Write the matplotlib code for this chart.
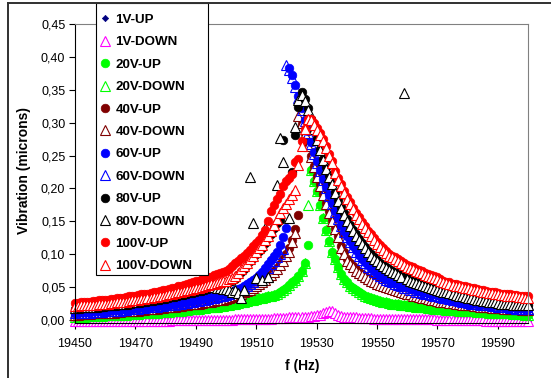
import numpy as np
import matplotlib
matplotlib.use("Agg")
import matplotlib.pyplot as plt
from matplotlib.lines import Line2D
from matplotlib.patches import Rectangle
from matplotlib.font_manager import FontProperties

plt.rcParams['font.family'] = ['Liberation Sans', 'DejaVu Sans']

# Frequency sweep (Hz), 1 Hz steps
F_START, F_STOP, F_STEP = 19450, 19600, 1
FREQ = np.arange(F_START, F_STOP + F_STEP, F_STEP).astype(float)

N = None
# rows: 19450-59, 19460-69, ..., 19590-99, then 19600
v1_up = [
    -0.003, -0.003, -0.003, -0.003, -0.003, -0.003, -0.003, -0.003, -0.003, -0.003,
    -0.003, -0.003, -0.002, -0.002, -0.002, -0.002, -0.002, -0.002, -0.002, -0.002,
    -0.002, -0.002, -0.002, -0.002, -0.002, -0.002, -0.002, -0.002, -0.002, -0.002,
    -0.002, -0.002, -0.001, -0.001, -0.001, -0.001, -0.001, -0.001, -0.001, -0.001,
    -0.001, -0.001, -0.001, -0.001, -0.001, -0.001, 0.000, 0.000, 0.000, 0.000,
    0.000, 0.000, 0.000, 0.000, 0.001, 0.001, 0.001, 0.001, 0.001, 0.001,
    0.001, 0.001, 0.002, 0.002, 0.002, 0.002, 0.002, 0.002, 0.003, 0.003,
    0.003, 0.003, 0.003, 0.004, 0.004, 0.004, 0.004, 0.005, 0.005, 0.006,
    0.006, 0.007, 0.009, 0.011, 0.012, 0.011, 0.009, 0.007, 0.005, 0.004,
    0.004, 0.004, 0.003, 0.003, 0.003, 0.003, 0.002, 0.002, 0.002, 0.002,
    0.002, 0.002, 0.001, 0.001, 0.001, 0.001, 0.001, 0.001, 0.001, 0.001,
    0.001, 0.001, 0.001, 0.001, 0.000, 0.000, 0.000, 0.000, 0.000, 0.000,
    0.000, 0.000, 0.000, 0.000, 0.000, 0.000, -0.001, -0.001, -0.001, -0.001,
    -0.001, -0.001, -0.001, -0.001, -0.001, -0.001, -0.001, -0.001, -0.001, -0.001,
    -0.001, -0.001, -0.002, -0.002, -0.002, -0.002, -0.002, -0.002, -0.002, -0.002,
    -0.002]
v1_down = [
    -0.002, -0.002, -0.002, -0.002, -0.002, -0.002, -0.002, -0.002, -0.002, -0.002,
    -0.002, -0.002, -0.002, -0.002, -0.001, -0.001, -0.001, -0.001, -0.001, -0.001,
    -0.001, -0.001, -0.001, -0.001, -0.001, -0.001, -0.001, -0.001, -0.001, -0.001,
    -0.001, -0.001, 0.000, 0.000, 0.000, 0.000, 0.000, 0.000, 0.000, 0.000,
    0.000, 0.000, 0.000, 0.000, 0.000, 0.000, 0.000, 0.000, 0.000, 0.000,
    0.000, 0.000, 0.000, 0.001, 0.001, 0.001, 0.001, 0.001, 0.001, 0.001,
    0.002, 0.002, 0.002, 0.002, 0.002, 0.002, 0.003, 0.003, 0.003, 0.003,
    0.003, 0.004, 0.004, 0.004, 0.004, 0.005, 0.005, 0.005, 0.006, 0.006,
    0.007, 0.008, 0.010, 0.012, 0.014, 0.013, 0.010, 0.008, 0.006, 0.005,
    0.005, 0.004, 0.004, 0.004, 0.003, 0.003, 0.003, 0.003, 0.003, 0.002,
    0.002, 0.002, 0.002, 0.002, 0.002, 0.002, 0.002, 0.002, 0.001, 0.001,
    0.001, 0.001, 0.001, 0.001, 0.001, 0.001, 0.001, 0.001, 0.001, 0.001,
    0.000, 0.000, 0.000, 0.000, 0.000, 0.000, 0.000, 0.000, 0.000, 0.000,
    0.000, 0.000, 0.000, 0.000, 0.000, 0.000, -0.001, -0.001, -0.001, -0.001,
    -0.001, -0.001, -0.001, -0.001, -0.001, -0.001, -0.001, -0.001, -0.001, -0.001,
    -0.001]
v20_up = [
    0.005, 0.005, 0.005, 0.005, 0.006, 0.006, 0.006, 0.006, 0.006, 0.006,
    0.007, 0.007, 0.007, 0.007, 0.008, 0.008, 0.008, 0.008, 0.009, 0.009,
    0.009, 0.009, 0.010, 0.010, 0.010, 0.010, 0.011, 0.011, 0.012, 0.012,
    0.012, 0.012, 0.013, 0.013, 0.014, 0.014, 0.015, 0.015, 0.016, 0.016,
    0.017, 0.017, 0.018, 0.018, 0.019, 0.019, 0.020, 0.020, 0.021, 0.021,
    0.022, 0.023, 0.024, 0.025, 0.026, 0.027, 0.028, 0.029, 0.030, 0.031,
    0.032, 0.033, 0.034, 0.035, 0.036, 0.037, 0.038, 0.040, 0.042, 0.045,
    0.049, 0.053, 0.057, 0.061, 0.067, 0.075, 0.087, 0.114, 0.228, 0.212,
    0.196, 0.175, 0.155, 0.137, 0.120, 0.104, 0.092, 0.080, 0.070, 0.063,
    0.057, 0.052, 0.048, 0.045, 0.042, 0.039, 0.037, 0.035, 0.033, 0.032,
    0.030, 0.029, 0.028, 0.027, 0.026, 0.025, 0.025, 0.024, 0.023, 0.022,
    0.022, 0.021, 0.021, 0.020, 0.020, 0.019, 0.019, 0.018, 0.018, 0.017,
    0.017, 0.016, 0.016, 0.015, 0.015, 0.015, 0.015, 0.014, 0.014, 0.013,
    0.013, 0.013, 0.013, 0.012, 0.012, 0.012, 0.012, 0.011, 0.011, 0.011,
    0.011, 0.010, 0.010, 0.010, 0.010, 0.009, 0.009, 0.009, 0.009, 0.008,
    0.008]
v20_down = [
    0.005, 0.005, 0.005, 0.005, 0.006, 0.006, 0.006, 0.006, 0.006, 0.006,
    0.007, 0.007, 0.007, 0.007, 0.008, 0.008, 0.008, 0.008, 0.009, 0.009,
    0.009, 0.009, 0.010, 0.010, 0.010, 0.010, 0.011, 0.011, 0.012, 0.012,
    0.012, 0.012, 0.013, 0.013, 0.014, 0.014, 0.015, 0.015, 0.016, 0.016,
    0.017, 0.017, 0.018, 0.018, 0.019, 0.019, 0.020, 0.020, 0.021, 0.021,
    0.022, 0.023, 0.024, 0.025, 0.026, 0.027, 0.028, 0.029, 0.030, 0.031,
    0.032, 0.033, 0.034, 0.035, 0.036, 0.037, 0.038, 0.040, 0.042, 0.045,
    0.049, 0.053, 0.057, 0.061, 0.067, 0.075, 0.087, 0.175, 0.228, 0.212,
    0.196, 0.175, 0.155, 0.137, 0.120, 0.104, 0.092, 0.080, 0.070, 0.063,
    0.057, 0.052, 0.048, 0.045, 0.042, 0.039, 0.037, 0.035, 0.033, 0.032,
    0.030, 0.029, 0.028, 0.027, 0.026, 0.025, 0.025, 0.024, 0.023, 0.022,
    0.022, 0.021, 0.021, 0.020, 0.020, 0.019, 0.019, 0.018, 0.018, 0.017,
    0.017, 0.016, 0.016, 0.015, 0.015, 0.015, 0.015, 0.014, 0.014, 0.013,
    0.013, 0.013, 0.013, 0.012, 0.012, 0.012, 0.012, 0.011, 0.011, 0.011,
    0.011, 0.010, 0.010, 0.010, 0.010, 0.009, 0.009, 0.009, 0.009, 0.008,
    0.008]
v40_up = [
    0.009, 0.009, 0.010, 0.010, 0.010, 0.010, 0.011, 0.011, 0.011, 0.011,
    0.012, 0.012, 0.012, 0.012, 0.013, 0.013, 0.014, 0.014, 0.014, 0.014,
    0.015, 0.015, 0.016, 0.016, 0.017, 0.017, 0.018, 0.018, 0.019, 0.019,
    0.020, 0.020, 0.021, 0.021, 0.022, 0.022, 0.023, 0.024, 0.025, 0.025,
    0.026, 0.026, 0.027, 0.028, 0.029, 0.029, 0.030, 0.031, 0.032, 0.032,
    0.033, 0.034, 0.036, 0.037, 0.039, 0.041, 0.043, 0.045, 0.047, 0.049,
    0.052, 0.055, 0.058, 0.062, 0.066, 0.070, 0.074, 0.079, 0.085, 0.092,
    0.100, 0.110, 0.122, 0.138, 0.160, 0.298, 0.285, 0.267, 0.250, 0.234,
    0.219, 0.206, 0.192, 0.178, 0.165, 0.152, 0.140, 0.128, 0.113, 0.103,
    0.093, 0.087, 0.082, 0.077, 0.073, 0.070, 0.067, 0.064, 0.061, 0.059,
    0.057, 0.055, 0.053, 0.052, 0.050, 0.049, 0.047, 0.046, 0.044, 0.043,
    0.042, 0.041, 0.039, 0.038, 0.037, 0.036, 0.035, 0.034, 0.033, 0.032,
    0.031, 0.030, 0.029, 0.029, 0.028, 0.028, 0.027, 0.026, 0.025, 0.025,
    0.024, 0.024, 0.023, 0.023, 0.022, 0.022, 0.021, 0.021, 0.020, 0.020,
    0.020, 0.020, 0.019, 0.019, 0.018, 0.018, 0.018, 0.018, 0.017, 0.017,
    0.017]
v40_down = [
    0.008, 0.008, 0.009, 0.009, 0.009, 0.009, 0.010, 0.010, 0.010, 0.010,
    0.011, 0.011, 0.011, 0.011, 0.012, 0.012, 0.013, 0.013, 0.013, 0.013,
    0.014, 0.014, 0.015, 0.015, 0.016, 0.016, 0.017, 0.017, 0.018, 0.018,
    0.019, 0.019, 0.020, 0.020, 0.021, 0.021, 0.022, 0.023, 0.024, 0.024,
    0.025, 0.025, 0.026, 0.027, 0.028, 0.028, 0.029, 0.030, 0.031, 0.031,
    0.032, 0.033, 0.035, 0.036, 0.038, 0.040, 0.042, 0.044, 0.046, 0.048,
    0.051, 0.054, 0.057, 0.061, 0.065, 0.069, 0.073, 0.077, 0.083, 0.090,
    0.097, 0.104, 0.118, 0.132, 0.310, 0.300, 0.283, 0.265, 0.248, 0.232,
    0.217, 0.204, 0.190, 0.176, 0.163, 0.150, 0.138, 0.126, 0.110, 0.100,
    0.090, 0.085, 0.080, 0.075, 0.071, 0.068, 0.065, 0.062, 0.059, 0.057,
    0.055, 0.053, 0.051, 0.050, 0.048, 0.047, 0.045, 0.044, 0.042, 0.041,
    0.040, 0.039, 0.037, 0.036, 0.035, 0.034, 0.033, 0.032, 0.031, 0.030,
    0.029, 0.028, 0.027, 0.027, 0.026, 0.026, 0.025, 0.024, 0.023, 0.023,
    0.022, 0.022, 0.021, 0.021, 0.020, 0.020, 0.019, 0.019, 0.018, 0.018,
    0.018, 0.018, 0.017, 0.017, 0.016, 0.016, 0.016, 0.016, 0.015, 0.015,
    0.015]
v60_up = [
    0.011, 0.011, 0.012, 0.012, 0.012, 0.012, 0.013, 0.013, 0.013, 0.013,
    0.014, 0.014, 0.015, 0.015, 0.015, 0.015, 0.016, 0.016, 0.017, 0.017,
    0.018, 0.018, 0.019, 0.019, 0.020, 0.020, 0.021, 0.021, 0.022, 0.022,
    0.023, 0.023, 0.024, 0.025, 0.026, 0.026, 0.027, 0.028, 0.029, 0.029,
    0.030, 0.031, 0.032, 0.033, 0.034, 0.035, 0.036, 0.037, 0.038, 0.039,
    0.040, 0.041, 0.043, 0.045, 0.047, 0.049, 0.052, 0.055, 0.058, 0.061,
    0.064, 0.068, 0.073, 0.079, 0.085, 0.091, 0.097, 0.104, 0.114, 0.126,
    0.140, 0.383, 0.372, 0.357, 0.340, 0.322, 0.304, 0.287, 0.270, 0.255,
    0.241, 0.228, 0.215, 0.202, 0.190, 0.178, 0.166, 0.155, 0.145, 0.136,
    0.128, 0.120, 0.113, 0.106, 0.099, 0.093, 0.088, 0.083, 0.079, 0.075,
    0.072, 0.069, 0.066, 0.063, 0.061, 0.059, 0.057, 0.055, 0.053, 0.051,
    0.050, 0.048, 0.047, 0.045, 0.044, 0.043, 0.042, 0.041, 0.040, 0.039,
    0.038, 0.036, 0.035, 0.034, 0.033, 0.032, 0.031, 0.030, 0.029, 0.028,
    0.027, 0.026, 0.026, 0.025, 0.024, 0.024, 0.023, 0.023, 0.022, 0.022,
    0.021, 0.021, 0.020, 0.020, 0.019, 0.019, 0.018, 0.018, 0.018, 0.017,
    0.017]
v60_down = [
    0.010, 0.010, 0.011, 0.011, 0.011, 0.011, 0.012, 0.012, 0.012, 0.012,
    0.013, 0.013, 0.014, 0.014, 0.014, 0.014, 0.015, 0.015, 0.016, 0.016,
    0.017, 0.017, 0.018, 0.018, 0.019, 0.019, 0.020, 0.020, 0.021, 0.021,
    0.022, 0.022, 0.023, 0.023, 0.024, 0.025, 0.026, 0.026, 0.027, 0.028,
    0.029, 0.029, 0.030, 0.031, 0.032, 0.033, 0.034, 0.035, 0.036, 0.037,
    0.038, 0.039, 0.041, 0.043, 0.045, 0.047, 0.049, 0.052, 0.055, 0.058,
    0.061, 0.064, 0.068, 0.073, 0.079, 0.085, 0.090, 0.095, 0.101, 0.108,
    0.388, 0.380, 0.368, 0.354, 0.338, 0.320, 0.302, 0.285, 0.268, 0.253,
    0.239, 0.226, 0.213, 0.200, 0.188, 0.176, 0.164, 0.153, 0.143, 0.134,
    0.126, 0.118, 0.111, 0.104, 0.097, 0.091, 0.086, 0.081, 0.077, 0.073,
    0.070, 0.067, 0.064, 0.061, 0.059, 0.057, 0.055, 0.053, 0.051, 0.049,
    0.048, 0.046, 0.045, 0.043, 0.042, 0.041, 0.040, 0.039, 0.038, 0.037,
    0.036, 0.035, 0.034, 0.033, 0.032, 0.031, 0.030, 0.029, 0.028, 0.027,
    0.026, 0.025, 0.025, 0.024, 0.023, 0.023, 0.022, 0.022, 0.021, 0.021,
    0.020, 0.020, 0.019, 0.019, 0.018, 0.018, 0.017, 0.017, 0.017, 0.017,
    0.016]
v80_up = [
    0.017, 0.017, 0.018, 0.018, 0.018, 0.018, 0.019, 0.019, 0.020, 0.020,
    0.021, 0.021, 0.022, 0.022, 0.023, 0.023, 0.024, 0.024, 0.025, 0.026,
    0.027, 0.027, 0.028, 0.028, 0.029, 0.030, 0.031, 0.031, 0.032, 0.033,
    0.034, 0.035, 0.036, 0.037, 0.038, 0.039, 0.040, 0.041, 0.042, 0.043,
    0.044, 0.045, 0.046, 0.047, 0.049, 0.050, 0.051, 0.052, 0.054, 0.055,
    0.056, 0.058, 0.060, 0.063, 0.068, 0.073, 0.078, 0.083, 0.089, 0.094,
    0.100, 0.105, 0.110, 0.117, 0.124, 0.131, 0.140, 0.148, 0.152, 0.274,
    N, N, 0.225, 0.281, 0.324, 0.347, 0.336, 0.322, 0.306, 0.291,
    0.276, 0.260, 0.245, 0.232, 0.220, 0.208, 0.195, 0.183, 0.172, 0.162,
    0.153, 0.145, 0.137, 0.130, 0.123, 0.117, 0.111, 0.105, 0.100, 0.095,
    0.091, 0.087, 0.084, 0.081, 0.078, 0.075, 0.073, 0.070, 0.068, 0.066,
    0.064, 0.062, 0.060, 0.058, 0.056, 0.054, 0.053, 0.051, 0.050, 0.048,
    0.047, 0.045, 0.044, 0.043, 0.042, 0.040, 0.039, 0.038, 0.037, 0.036,
    0.035, 0.034, 0.033, 0.032, 0.031, 0.030, 0.030, 0.029, 0.028, 0.028,
    0.027, 0.026, 0.026, 0.025, 0.025, 0.024, 0.024, 0.023, 0.023, 0.022,
    0.022]
v80_down = [
    0.018, 0.018, 0.019, 0.019, 0.019, 0.019, 0.020, 0.020, 0.021, 0.021,
    0.022, 0.022, 0.023, 0.023, 0.024, 0.024, 0.025, 0.025, 0.026, 0.027,
    0.028, 0.028, 0.029, 0.029, 0.030, 0.031, 0.032, 0.032, 0.033, 0.034,
    0.035, 0.036, 0.037, 0.038, 0.039, 0.040, 0.041, 0.042, 0.043, 0.044,
    0.045, 0.046, 0.047, 0.048, 0.050, 0.051, 0.050, 0.049, 0.048, 0.047,
    0.047, 0.045, 0.043, 0.046, 0.041, 0.033, 0.045, 0.099, 0.218, 0.147,
    0.064, N, 0.061, 0.140, 0.065, N, N, 0.205, 0.277, 0.240,
    N, 0.155, N, 0.293, 0.334, 0.342, 0.333, 0.320, 0.305, 0.290,
    0.274, 0.258, 0.243, 0.230, 0.218, 0.206, 0.193, 0.181, 0.170, 0.160,
    0.151, 0.143, 0.135, 0.128, 0.121, 0.115, 0.109, 0.103, 0.098, 0.093,
    0.089, 0.085, 0.082, 0.079, 0.076, 0.073, 0.071, 0.068, 0.066, 0.345,
    0.062, 0.060, 0.058, 0.056, 0.055, 0.053, 0.052, 0.050, 0.049, 0.047,
    0.046, 0.044, 0.043, 0.042, 0.041, 0.039, 0.038, 0.037, 0.036, 0.035,
    0.034, 0.033, 0.032, 0.031, 0.030, 0.029, 0.029, 0.028, 0.027, 0.027,
    0.026, 0.025, 0.025, 0.024, 0.024, 0.023, 0.023, 0.022, 0.022, 0.022,
    0.022]
v100_up = [
    0.026, 0.026, 0.027, 0.027, 0.028, 0.028, 0.029, 0.029, 0.030, 0.030,
    0.031, 0.031, 0.032, 0.032, 0.033, 0.033, 0.034, 0.035, 0.036, 0.036,
    0.037, 0.038, 0.039, 0.039, 0.040, 0.041, 0.042, 0.043, 0.044, 0.045,
    0.046, 0.047, 0.048, 0.049, 0.051, 0.052, 0.053, 0.054, 0.056, 0.057,
    0.059, 0.060, 0.062, 0.063, 0.065, 0.066, 0.068, 0.070, 0.072, 0.073,
    0.075, 0.078, 0.082, 0.086, 0.090, 0.094, 0.098, 0.102, 0.107, 0.112,
    0.117, 0.122, 0.129, 0.137, 0.150, 0.165, 0.175, 0.184, 0.192, 0.203,
    0.211, 0.216, 0.222, 0.240, 0.245, 0.272, 0.290, 0.306, 0.306, 0.300,
    0.292, 0.284, 0.275, 0.265, 0.253, 0.241, 0.227, 0.216, 0.206, 0.196,
    0.187, 0.179, 0.171, 0.163, 0.156, 0.149, 0.143, 0.136, 0.130, 0.124,
    0.119, 0.114, 0.109, 0.105, 0.101, 0.098, 0.095, 0.092, 0.089, 0.086,
    0.084, 0.082, 0.080, 0.078, 0.076, 0.074, 0.072, 0.070, 0.069, 0.067,
    0.065, 0.062, 0.060, 0.058, 0.057, 0.055, 0.054, 0.053, 0.052, 0.051,
    0.050, 0.049, 0.048, 0.047, 0.046, 0.045, 0.044, 0.043, 0.043, 0.042,
    0.041, 0.040, 0.040, 0.039, 0.039, 0.038, 0.038, 0.037, 0.037, 0.036,
    0.036]
v100_down = [
    0.021, 0.021, 0.022, 0.022, 0.022, 0.022, 0.023, 0.023, 0.024, 0.024,
    0.025, 0.025, 0.026, 0.026, 0.027, 0.027, 0.028, 0.028, 0.029, 0.030,
    0.031, 0.031, 0.032, 0.032, 0.033, 0.034, 0.035, 0.035, 0.036, 0.037,
    0.038, 0.039, 0.040, 0.041, 0.042, 0.043, 0.044, 0.045, 0.046, 0.047,
    0.048, 0.049, 0.050, 0.051, 0.053, 0.054, 0.055, 0.056, 0.058, 0.059,
    0.060, 0.062, 0.064, 0.067, 0.072, 0.077, 0.082, 0.087, 0.093, 0.098,
    0.104, 0.109, 0.114, 0.121, 0.128, 0.135, 0.144, 0.153, 0.162, 0.170,
    0.177, 0.184, 0.190, 0.197, 0.235, 0.265, 0.290, 0.306, 0.304, 0.297,
    0.289, 0.281, 0.272, 0.262, 0.250, 0.238, 0.224, 0.213, 0.203, 0.193,
    0.184, 0.176, 0.168, 0.160, 0.153, 0.146, 0.140, 0.133, 0.127, 0.121,
    0.116, 0.111, 0.106, 0.102, 0.098, 0.095, 0.092, 0.089, 0.086, 0.083,
    0.081, 0.079, 0.077, 0.075, 0.073, 0.071, 0.069, 0.067, 0.066, 0.064,
    0.062, 0.060, 0.058, 0.056, 0.055, 0.053, 0.052, 0.051, 0.050, 0.049,
    0.048, 0.047, 0.046, 0.045, 0.044, 0.043, 0.042, 0.041, 0.041, 0.040,
    0.039, 0.038, 0.038, 0.037, 0.037, 0.036, 0.036, 0.035, 0.035, 0.034,
    0.034]

LABELS = ["1V-UP", "1V-DOWN", "20V-UP", "20V-DOWN", "40V-UP", "40V-DOWN",
          "60V-UP", "60V-DOWN", "80V-UP", "80V-DOWN", "100V-UP", "100V-DOWN"]
VALUES = [v1_up, v1_down, v20_up, v20_down, v40_up, v40_down,
          v60_up, v60_down, v80_up, v80_down, v100_up, v100_down]
COLORS = ["#000080", "#FF00FF", "#00FF00", "#00FF00", "#800000", "#800000",
          "#0000FF", "#0000FF", "#000000", "#000000", "#FF0000", "#FF0000"]
TRI_FILL = {"1V-DOWN": "white", "20V-DOWN": "none", "40V-DOWN": "white",
            "60V-DOWN": "none", "80V-DOWN": "white", "100V-DOWN": "white"}

for lab, v in zip(LABELS, VALUES):
    if len(v) != len(FREQ):
        raise ValueError(f"{lab}: {len(v)} vs {len(FREQ)}")

W, H = 551, 378
fig = plt.figure(figsize=(W / 100, H / 100), dpi=100)
x0, x1, ytop, ybot = 75, 528, 24, 322.6
ax = fig.add_axes([x0 / W, 1 - ybot / H, (x1 - x0) / W, (ybot - ytop) / H])
ax.set_xlim(19450, 19600)
ax.set_ylim(-0.004, 0.45)

def style(lab, col, legend=False):
    if lab == "1V-UP":
        return dict(marker="D", ms=3.2, mfc=col, mec=col, mew=0.5)
    if lab.endswith("UP"):
        return dict(marker="o", ms=6.2, mfc=col, mec=col, mew=0.5)
    return dict(marker="^", ms=7.2, mfc="none" if legend else TRI_FILL[lab], mec=col, mew=0.8)

handles = []
for lab, v, col in zip(LABELS, VALUES, COLORS):
    y = np.array([np.nan if a is None else a for a in v], dtype=float)
    ax.plot(FREQ, y, linestyle="none", clip_on=False, **style(lab, col))
    handles.append(Line2D([], [], linestyle="none", **style(lab, col, legend=True)))

xt = list(range(19450, 19600, 20))
ax.set_xticks(xt)
ax.set_xticklabels([str(t) for t in xt])
yt = [i * 0.05 for i in range(10)]
ax.set_yticks(yt)
ax.set_yticklabels([f"{t:.2f}".replace(".", ",") for t in yt])
ax.tick_params(axis="both", direction="out", length=4, width=0.8, labelsize=9, colors="black")
ax.tick_params(axis="x", pad=7)
ax.tick_params(axis="y", pad=3)
for s in ("left", "bottom"):
    ax.spines[s].set_color("black")
    ax.spines[s].set_linewidth(0.8)
for s in ("top", "right"):
    ax.spines[s].set_color("#808080")
    ax.spines[s].set_linewidth(0.8)

fig.text(24 / W, 1 - 170 / H, "Vibration (microns)", rotation=90, ha="center", va="center",
         fontsize=10, fontweight="bold")
fig.text(302 / W, 1 - 366 / H, "f (Hz)", ha="center", va="center", fontsize=10, fontweight="bold")

# legend box
fig.add_artist(Rectangle((96 / W, 1 - 275 / H), 111.5 / W, 272 / H, transform=fig.transFigure,
                         facecolor="white", edgecolor="black", linewidth=0.8, zorder=3))
leg = fig.legend(handles, LABELS, loc="upper left", bbox_to_anchor=(96 / W, 1 - 9 / H),
                 frameon=False, prop=FontProperties(family=["Liberation Sans"], weight="bold", size=9.6),
                 handlelength=0.7, handletextpad=0.4, labelspacing=0.755, borderpad=0.35,
                 borderaxespad=0)
leg.set_zorder(5)

# chart-area border (top and left)
fig.add_artist(Line2D([7.5 / W, 1], [1 - 2.5 / H, 1 - 2.5 / H], transform=fig.transFigure,
                      color="#303030", linewidth=1.4, zorder=6))
fig.add_artist(Line2D([7.5 / W, 7.5 / W], [0, 1 - 2.5 / H], transform=fig.transFigure,
                      color="#303030", linewidth=1.4, zorder=6))

fig.savefig("out.png", dpi=100)
